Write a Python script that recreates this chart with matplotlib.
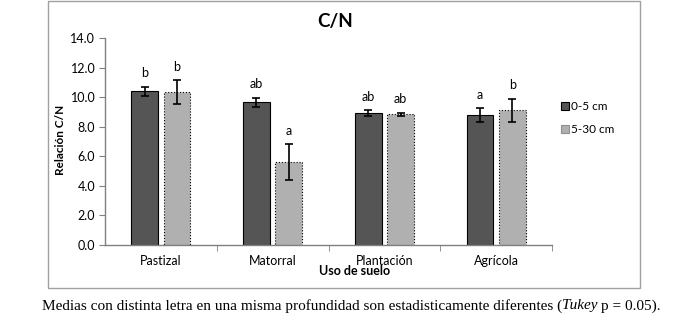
import matplotlib
matplotlib.use("Agg")
import matplotlib.pyplot as plt
from matplotlib.patches import Rectangle, Patch
import numpy as np

categories = ["Pastizal", "Matorral", "Plantación", "Agrícola"]
series_names = ["0-5 cm", "5-30 cm"]
vals_0_5 = [10.4, 9.65, 8.9, 8.8]
err_0_5 = [0.3, 0.3, 0.2, 0.45]
vals_5_30 = [10.35, 5.6, 8.85, 9.1]
err_5_30 = [0.8, 1.2, 0.1, 0.8]
letters_0_5 = ["b", "ab", "ab", "a"]
letters_5_30 = ["b", "a", "ab", "b"]
yticks = [0, 2, 4, 6, 8, 10, 12, 14]

font = "Lato"
fig = plt.figure(figsize=(6.84, 3.26), dpi=100)
fig.patch.set_facecolor("white")

# chart frame
fig.patches.append(Rectangle((48/684, 1-288/326), (640-48)/684, 287/326,
                             transform=fig.transFigure, fill=False,
                             edgecolor="#a0a0a0", linewidth=1.0))

ax = fig.add_axes([105/684, 1-245/326, 447/684, 207/326])
x = np.arange(len(categories))
w = 0.24
off = 0.145
ax.bar(x - off, vals_0_5, w, color="#555555", edgecolor="black", linewidth=0.8,
       yerr=err_0_5, capsize=3, error_kw=dict(elinewidth=1.2, capthick=1.2, ecolor="black"))
ax.bar(x + off, vals_5_30, w, color="#b0b0b0", edgecolor="black", linewidth=0.8,
       linestyle=":", yerr=err_5_30, capsize=3,
       error_kw=dict(elinewidth=1.2, capthick=1.2, ecolor="black"))

for i in range(len(categories)):
    ax.text(x[i] - off, vals_0_5[i] + err_0_5[i] + 0.5, letters_0_5[i],
            ha="center", va="bottom", fontsize=9, family=font)
    ax.text(x[i] + off, vals_5_30[i] + err_5_30[i] + 0.5, letters_5_30[i],
            ha="center", va="bottom", fontsize=9, family=font)

ax.set_xlim(-0.5, 3.5)
ax.set_ylim(0, 14)
ax.set_yticks(yticks)
ax.set_yticklabels([f"{v:.1f}" for v in yticks], fontsize=9, family=font)
ax.set_xticks(x)
ax.set_xticklabels(categories, fontsize=9, family=font)
ax.set_xticks([0.5, 1.5, 2.5, 3.5], minor=True)
ax.tick_params(axis="x", which="major", length=0, pad=7)
ax.tick_params(axis="x", which="minor", length=4, color="#808080")
ax.tick_params(axis="y", length=4, color="#808080", pad=3)
for s in ["top", "right"]:
    ax.spines[s].set_visible(False)
for s in ["left", "bottom"]:
    ax.spines[s].set_color("#808080")
    ax.spines[s].set_linewidth(1.0)

fig.text(335/684, 1-22/326, "C/N", ha="center", va="center", fontsize=13.5,
         fontweight="bold", family=font)
fig.text(60/684, 1-140/326, "Relación C/N", ha="center", va="center", rotation=90,
         fontsize=8.5, fontweight="bold", family=font)
fig.text(355/684, 1-271/326, "Uso de suelo", ha="center", va="center",
         fontsize=9, fontweight="bold", family=font)

handles = [Patch(facecolor="#555555", edgecolor="black", linewidth=0.8),
           Patch(facecolor="#b0b0b0", edgecolor="#909090", linewidth=0.8)]
fig.legend(handles, series_names, loc="center left",
           bbox_to_anchor=(550/684, 1-118/326), frameon=False,
           prop=dict(family=font, size=8.5), handlelength=0.7, handleheight=0.7,
           handletextpad=0.2, labelspacing=1.0)

fig.text(42/684, 1-306/326,
         "Medias con distinta letra en una misma profundidad son estadisticamente diferentes (",
         ha="left", va="center", fontsize=11, family="Liberation Serif")
t1 = fig.texts[-1]
fig.canvas.draw()
r = fig.canvas.get_renderer()
bb = t1.get_window_extent(r)
t2 = fig.text(bb.x1/684, 1-306/326, "Tukey", ha="left", va="center", fontsize=11,
              family="Liberation Serif", style="italic")
bb2 = t2.get_window_extent(r)
fig.text(bb2.x1/684 + 3/684, 1-306/326, "p = 0.05).", ha="left", va="center",
         fontsize=11, family="Liberation Serif")

fig.savefig("out.png", dpi=100)
